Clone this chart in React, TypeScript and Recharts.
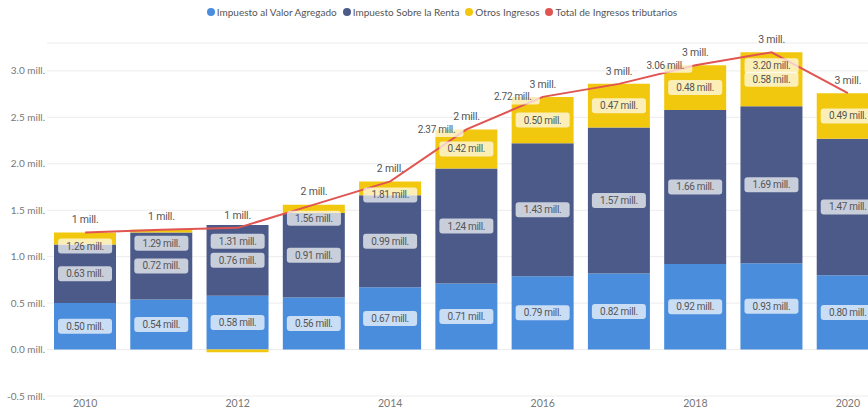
import { ComposedChart, Bar, Line, XAxis, YAxis, CartesianGrid, LabelList } from 'recharts'

const years = ['2010', '2011', '2012', '2013', '2014', '2015', '2016', '2017', '2018', '2019', '2020']
const iva = [0.5, 0.54, 0.58, 0.56, 0.67, 0.71, 0.79, 0.82, 0.92, 0.93, 0.8]
const isr = [0.63, 0.72, 0.76, 0.91, 0.99, 1.24, 1.43, 1.57, 1.66, 1.69, 1.47]
const otros = [0.13, 0.03, -0.03, 0.09, 0.15, 0.42, 0.5, 0.47, 0.48, 0.58, 0.49]
const total = [1.26, 1.29, 1.31, 1.56, 1.81, 2.37, 2.72, 2.86, 3.06, 3.2, 2.76]
const yTicks = [-0.5, 0, 0.5, 1, 1.5, 2, 2.5, 3]

const data = years.map((year, i) => ({
  year,
  iva: iva[i],
  isr: isr[i],
  otros: otros[i],
  total: total[i],
}))

// where the total label ends up (power bi shuffles them around to avoid overlap)
const totalSpot = ['below', 'below', 'below', 'below', 'below', 'left', 'left', 'none', 'left', 'below', 'none']

const COLORS = {
  iva: '#4a8ddc',
  isr: '#4b5a88',
  otros: '#f2c80f',
  total: '#e05552',
}

const legendItems = [
  { name: 'Impuesto al Valor Agregado', color: COLORS.iva },
  { name: 'Impuesto Sobre la Renta', color: COLORS.isr },
  { name: 'Otros Ingresos', color: COLORS.otros },
  { name: 'Total de Ingresos tributarios', color: COLORS.total },
]

const font = 'Lato, "Open Sans", sans-serif'
const labelFont = 'Roboto, sans-serif'

function LabelBox({ cx, cy, text }: { cx: number; cy: number; text: string }) {
  const w = text.length * 4.4 + 10
  return (
    <g>
      <rect x={cx - w / 2} y={cy - 7.5} width={w} height={15} rx={3} fill="#fff" fillOpacity={0.7} />
      <text
        x={cx}
        y={cy}
        dy="0.35em"
        textAnchor="middle"
        fontSize={10}
        letterSpacing={-0.3}
        fontFamily={labelFont}
        fill="#555"
      >
        {text}
      </text>
    </g>
  )
}

function SegmentLabel(props: any) {
  const { x, y, width, height, value } = props
  if (Math.abs(height) < 18) return null
  return <LabelBox cx={x + width / 2} cy={y + height / 2} text={`${Number(value).toFixed(2)} mill.`} />
}

function TotalLabel(props: any) {
  const { x, y, value, index } = props
  const spot = totalSpot[index]
  if (spot === 'none') return null
  const text = `${Number(value).toFixed(2)} mill.`
  const w = text.length * 4.4 + 10
  if (spot === 'left') return <LabelBox cx={x - 3 - w / 2} cy={y} text={text} />
  return <LabelBox cx={x} cy={y + 13.5} text={text} />
}

function LineLabel(props: any) {
  const { x, y, value } = props
  return (
    <text
      x={x}
      y={y - 13}
      dy="0.35em"
      textAnchor="middle"
      fontSize={10.5}
      letterSpacing={-0.2}
      fontFamily={labelFont}
      fill="#555"
    >
      {Math.round(value)} mill.
    </text>
  )
}

function YTick(props: any) {
  const { x, y, payload } = props
  return (
    <text x={x} y={y} dy="0.35em" textAnchor="end" fontSize={10} fontFamily={font} fill="#777">
      {`${payload.value.toFixed(1)} mill.`}
    </text>
  )
}

function XTick(props: any) {
  const { x, y, payload } = props
  return (
    <text x={x} y={y} dy="0.75em" textAnchor="middle" fontSize={10.5} fontFamily={font} fill="#777">
      {payload.value}
    </text>
  )
}

export default function App() {
  return (
    <div style={{ position: 'absolute', left: 0, top: 0, width: 868, height: 412, overflow: 'hidden', background: '#fff' }}>
      <div
        style={{
          position: 'absolute',
          top: 6,
          left: 0,
          width: 884,
          display: 'flex',
          justifyContent: 'center',
          gap: 6,
          fontFamily: font,
          fontSize: 10,
          color: '#555',
        }}
      >
        {legendItems.map((item) => (
          <span key={item.name} style={{ display: 'flex', alignItems: 'center', gap: 2 }}>
            <span style={{ width: 8, height: 8, borderRadius: 4, background: item.color, display: 'inline-block' }} />
            {item.name}
          </span>
        ))}
      </div>
      <ComposedChart
        width={886}
        height={412}
        data={data}
        stackOffset="sign"
        margin={{ top: 43, right: 0, left: 0, bottom: 0 }}
      >
        <CartesianGrid horizontal vertical={false} stroke="#ececec" />
        <XAxis
          dataKey="year"
          interval={1}
          tickLine={false}
          axisLine={false}
          height={16}
          tickSize={0}
          tickMargin={3}
          tick={XTick}
        />
        <YAxis
          type="number"
          domain={[-0.5, 3.3]}
          ticks={yTicks}
          width={47}
          tickLine={false}
          axisLine={false}
          tickSize={0}
          tickMargin={2}
          tick={YTick}
        />
        <Bar dataKey="iva" stackId="a" fill={COLORS.iva} barSize={62} isAnimationActive={false}>
          <LabelList dataKey="iva" content={SegmentLabel} />
        </Bar>
        <Bar dataKey="isr" stackId="a" fill={COLORS.isr} barSize={62} isAnimationActive={false}>
          <LabelList dataKey="isr" content={SegmentLabel} />
        </Bar>
        <Bar dataKey="otros" stackId="a" fill={COLORS.otros} barSize={62} isAnimationActive={false}>
          <LabelList dataKey="otros" content={SegmentLabel} />
        </Bar>
        <Line
          dataKey="total"
          stroke={COLORS.total}
          strokeWidth={2}
          dot={false}
          activeDot={false}
          isAnimationActive={false}
        >
          <LabelList dataKey="total" content={TotalLabel} />
          <LabelList dataKey="total" content={LineLabel} />
        </Line>
      </ComposedChart>
    </div>
  )
}
